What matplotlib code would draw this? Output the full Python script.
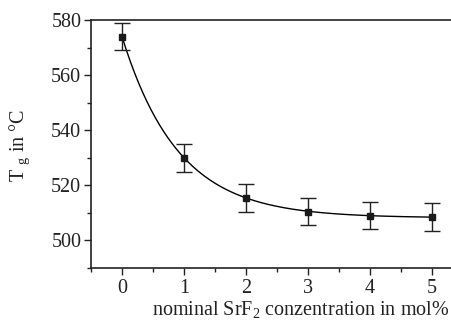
import numpy as np
import matplotlib
matplotlib.use("Agg")
import matplotlib.pyplot as plt
from matplotlib.ticker import MultipleLocator

plt.rcParams['font.family'] = ['Liberation Serif', 'DejaVu Serif']
plt.rcParams['mathtext.fontset'] = 'custom'
plt.rcParams['mathtext.rm'] = 'Liberation Serif'
plt.rcParams['mathtext.it'] = 'Liberation Serif:italic'

# Data
srf2_mol = [0, 1, 2, 3, 4, 5]
tg_values = [574.0, 530.0, 515.5, 510.5, 509.0, 508.5]
tg_errors = [5.0, 5.0, 5.0, 5.0, 5.0, 5.0]
x_ticks = [0, 1, 2, 3, 4, 5]
y_ticks = [500, 520, 540, 560, 580]

# Exponential decay fit y = y0 + A*exp(-x/t) to data (grid over t, linear LSQ)
xd = np.array(srf2_mol, float)
yd = np.array(tg_values, float)
best = None
for t in np.linspace(0.2, 3.0, 2801):
    M = np.column_stack([np.ones_like(xd), np.exp(-xd / t)])
    coef, *_ = np.linalg.lstsq(M, yd, rcond=None)
    r = np.sum((M @ coef - yd) ** 2)
    if best is None or r < best[0]:
        best = (r, t, coef)
_, t_fit, (y0_fit, a_fit) = best
xf = np.linspace(0, 5, 300)
yf = y0_fit + a_fit * np.exp(-xf / t_fit)

fig = plt.figure(figsize=(4.52, 3.28), dpi=100)
ax = fig.add_axes([91 / 452, 1 - 268 / 328, (463 - 91) / 452, (268 - 20) / 328])

ax.plot(xf, yf, color='black', lw=1.0, zorder=2)
ax.errorbar(srf2_mol, tg_values, yerr=tg_errors, fmt='s', color='#1a1a1a',
            ms=4.8, ecolor='#222222', elinewidth=1.0, capsize=6, capthick=1.0, zorder=3)

ax.set_xlim(-0.5, 5.5)
ax.set_ylim(490, 580)
ax.set_xticks(x_ticks)
ax.set_yticks(y_ticks)
ax.xaxis.set_minor_locator(MultipleLocator(0.5))
ax.yaxis.set_minor_locator(MultipleLocator(10))
ax.tick_params(axis='both', which='major', direction='out', length=5, width=1.0,
               labelsize=14.5, colors='#222222')
ax.tick_params(axis='y', which='major', pad=2)
ax.tick_params(axis='x', which='major', pad=3)
ax.tick_params(axis='both', which='minor', direction='out', length=3, width=1.0,
               colors='#222222')
ax.spines['right'].set_visible(False)
for s in ['left', 'bottom', 'top']:
    ax.spines[s].set_linewidth(1.2)
    ax.spines[s].set_color('#222222')

fig.text(20 / 452, 1 - 145 / 328, r'T $_{\mathrm{g}}$ in °C', rotation=90,
         ha='center', va='center', fontsize=14.5, color='#222222')
fig.text(449 / 452, 1 - 309 / 328, r'nominal SrF$_{2}$ conzentration in mol%',
         ha='right', va='center', fontsize=14.5, color='#222222')

fig.savefig('out.png', dpi=100)
